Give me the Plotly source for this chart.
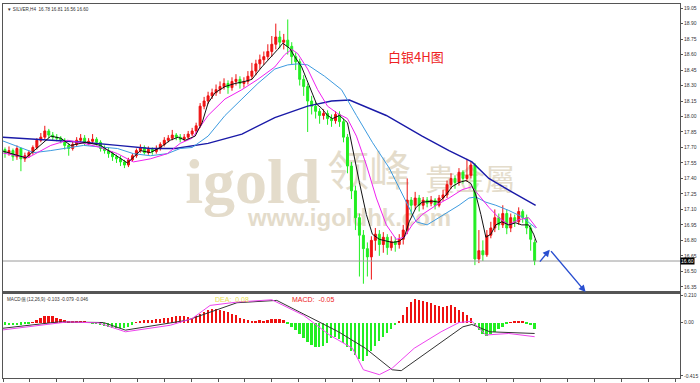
import plotly.graph_objects as go

# ---------------- data ----------------
opens = [17.68, 17.65, 17.67, 17.61, 17.69, 17.59, 17.62, 17.65, 17.70, 17.77,
         17.80, 17.86, 17.82, 17.80, 17.79, 17.77, 17.72, 17.69, 17.73, 17.77,
         17.79, 17.74, 17.76, 17.78, 17.75, 17.69, 17.67, 17.64, 17.61, 17.59,
         17.56, 17.53, 17.58, 17.62, 17.67, 17.70, 17.65, 17.68, 17.66, 17.69,
         17.73, 17.77, 17.79, 17.82, 17.80, 17.78, 17.80, 17.83, 17.86, 17.91,
         18.10, 18.15, 18.20, 18.23, 18.26, 18.29, 18.32, 18.28, 18.34, 18.36,
         18.32, 18.34, 18.39, 18.44, 18.51, 18.55, 18.58, 18.63, 18.70, 18.77,
         18.72, 18.74, 18.68, 18.58, 18.53, 18.36, 18.29, 18.15, 18.10, 18.05,
         18.01, 18.03, 17.98, 17.96, 18.02, 17.95, 17.80, 17.52, 17.28, 17.02,
         16.85, 16.72, 16.64, 16.80, 16.86, 16.76, 16.83, 16.73, 16.79, 16.76,
         16.81, 16.90, 17.19, 17.14, 17.21, 17.14, 17.19, 17.16, 17.19, 17.14,
         17.21, 17.24, 17.34, 17.40, 17.36, 17.46, 17.40, 17.43, 17.53, 16.62,
         16.70, 16.66, 16.85, 16.92, 17.02, 16.95, 17.06, 16.92, 17.02, 16.98,
         17.08, 17.02, 16.92, 16.78]
closes = [17.65, 17.67, 17.61, 17.69, 17.59, 17.62, 17.65, 17.70, 17.77, 17.80,
          17.86, 17.82, 17.80, 17.79, 17.77, 17.72, 17.69, 17.73, 17.77, 17.79,
          17.74, 17.76, 17.78, 17.75, 17.69, 17.67, 17.64, 17.61, 17.59, 17.56,
          17.53, 17.58, 17.62, 17.67, 17.70, 17.65, 17.68, 17.66, 17.69, 17.73,
          17.77, 17.79, 17.82, 17.80, 17.78, 17.80, 17.83, 17.86, 17.91, 18.10,
          18.15, 18.20, 18.23, 18.26, 18.29, 18.32, 18.28, 18.34, 18.36, 18.32,
          18.34, 18.39, 18.44, 18.51, 18.55, 18.58, 18.63, 18.70, 18.77, 18.72,
          18.74, 18.68, 18.58, 18.53, 18.36, 18.29, 18.15, 18.10, 18.05, 18.01,
          18.03, 17.98, 17.96, 18.02, 17.95, 17.80, 17.52, 17.28, 17.02, 16.85,
          16.72, 16.64, 16.80, 16.86, 16.76, 16.83, 16.73, 16.79, 16.76, 16.81,
          16.90, 17.19, 17.14, 17.21, 17.14, 17.19, 17.16, 17.19, 17.14, 17.21,
          17.24, 17.34, 17.40, 17.36, 17.46, 17.40, 17.43, 17.53, 16.62, 16.70,
          16.66, 16.85, 16.92, 17.02, 16.95, 17.06, 16.92, 17.02, 16.98, 17.08,
          17.02, 16.92, 16.81, 16.60]
highs = [17.70, 17.71, 17.69, 17.72, 17.70, 17.65, 17.67, 17.72, 17.79, 17.84,
         17.91, 17.88, 17.85, 17.83, 17.81, 17.79, 17.74, 17.76, 17.80, 17.83,
         17.82, 17.79, 17.83, 17.80, 17.77, 17.72, 17.70, 17.66, 17.63, 17.62,
         17.58, 17.60, 17.64, 17.69, 17.73, 17.72, 17.71, 17.70, 17.72, 17.75,
         17.80, 17.82, 17.87, 17.84, 17.83, 17.83, 17.86, 17.89, 17.94, 18.13,
         18.19, 18.24, 18.27, 18.31, 18.34, 18.37, 18.35, 18.38, 18.41, 18.39,
         18.38, 18.44, 18.52, 18.55, 18.60, 18.63, 18.70, 18.78, 18.90, 18.83,
         18.80, 18.94, 18.72, 18.62, 18.56, 18.40, 18.32, 18.20, 18.14, 18.08,
         18.07, 18.06, 18.02, 18.05, 18.05, 17.98, 17.83, 17.56, 17.33, 17.06,
         16.90, 16.78, 16.84, 16.92, 16.90, 16.88, 16.86, 16.84, 16.83, 16.86,
         16.95, 17.40, 17.22, 17.27, 17.24, 17.22, 17.22, 17.23, 17.21, 17.24,
         17.29, 17.38, 17.45, 17.43, 17.50, 17.48, 17.59, 17.56, 17.55, 16.90,
         16.80, 16.90, 16.98, 17.10, 17.06, 17.14, 17.10, 17.06, 17.05, 17.12,
         17.10, 17.05, 16.95, 16.81]
lows = [17.60, 17.62, 17.57, 17.58, 17.47, 17.56, 17.60, 17.63, 17.68, 17.75,
        17.78, 17.79, 17.77, 17.76, 17.74, 17.68, 17.62, 17.67, 17.71, 17.75,
        17.72, 17.72, 17.74, 17.72, 17.66, 17.64, 17.60, 17.57, 17.55, 17.52,
        17.50, 17.51, 17.56, 17.60, 17.65, 17.63, 17.63, 17.63, 17.64, 17.67,
        17.71, 17.75, 17.77, 17.77, 17.75, 17.76, 17.78, 17.81, 17.84, 17.89,
        18.07, 18.12, 18.17, 18.20, 18.22, 18.26, 18.22, 18.25, 18.30, 18.27,
        18.28, 18.31, 18.36, 18.40, 18.46, 18.50, 18.55, 18.58, 18.65, 18.66,
        18.65, 18.60, 18.50, 18.45, 18.30, 18.20, 17.85, 18.02, 17.98, 17.93,
        17.97, 17.92, 17.90, 17.93, 17.90, 17.75, 17.45, 17.20, 16.90, 16.45,
        16.38, 16.45, 16.42, 16.70, 16.65, 16.68, 16.66, 16.70, 16.69, 16.72,
        16.76, 16.86, 17.05, 17.10, 17.08, 17.10, 17.12, 17.13, 17.10, 17.12,
        17.18, 17.21, 17.30, 17.30, 17.33, 17.35, 17.37, 17.40, 16.56, 16.58,
        16.60, 16.64, 16.82, 16.88, 16.90, 16.92, 16.86, 16.88, 16.93, 16.95,
        16.97, 16.86, 16.70, 16.56]
bar_index = list(range(len(closes)))

# moving-average lines (black, magenta, light blue, dark blue)
ma_fast_x = [-1, 5.25, 11.5, 14, 16.5, 20.25, 24, 30.75, 34, 36.5, 39, 41.5, 43.5, 45.25, 47.75, 49.5, 51,
             52.75, 55.25, 57.75, 60.25, 62, 64.5, 67, 68.5, 69.75, 71.5, 72.75, 74.5, 75.75, 77, 78.25,
             79.5, 81, 82.25, 84, 86, 87.25, 89, 90.75, 92.25, 94, 97.25, 99, 100.25, 101.5, 103.25,
             104.75, 107.25, 109, 110.75, 112.25, 114, 115.75, 117, 118.25, 119.5, 120.75, 122, 123.25,
             124.75, 126.5, 128.25, 129.75, 131.5, 132.75, 133.5]
ma_fast_y = [17.67, 17.60, 17.81, 17.79, 17.72, 17.75, 17.72, 17.55, 17.67, 17.65, 17.70, 17.77, 17.80,
             17.77, 17.81, 17.94, 18.13, 18.23, 18.29, 18.32, 18.34, 18.36, 18.48, 18.58, 18.65, 18.71,
             18.66, 18.58, 18.48, 18.36, 18.23, 18.12, 18.08, 18.01, 17.98, 18.01, 17.94, 17.69, 17.36,
             17.05, 16.86, 16.81, 16.78, 16.79, 16.83, 16.98, 17.12, 17.17, 17.18, 17.17, 17.24, 17.32,
             17.36, 17.38, 17.35, 17.24, 17.05, 16.83, 16.86, 16.95, 16.98, 16.95, 16.97, 16.95, 16.95,
             16.86, 16.78]
ma_mid_x = [-1, 5.75, 11.5, 15.75, 19.75, 24, 28.25, 32.25, 36.5, 40.75, 44, 47, 51, 55.25, 59.5, 63.5,
            67.75, 70.25, 72, 73.5, 76, 78.5, 81, 83.5, 86, 88.25, 90.75, 93.25, 95.75, 98.25, 100.25,
            102.25, 104.75, 108.25, 111.5, 114.75, 117.25, 119, 121.5, 124, 126.5, 129, 131.5, 133.5]
ma_mid_y = [17.65, 17.60, 17.72, 17.77, 17.74, 17.70, 17.64, 17.56, 17.59, 17.64, 17.74, 17.79, 18.01,
            18.17, 18.26, 18.36, 18.48, 18.60, 18.65, 18.61, 18.46, 18.26, 18.10, 18.03, 17.98, 17.81,
            17.53, 17.21, 16.95, 16.81, 16.83, 16.95, 17.05, 17.14, 17.21, 17.29, 17.32, 17.24, 17.12,
            17.02, 16.95, 17.00, 17.02, 16.92]
ma_slow_x = [-1, 7.25, 11.5, 19.75, 28.25, 32.25, 36.5, 40.75, 44, 47, 51, 55.25, 59.5, 63.5, 67.75, 71,
             73.5, 76, 80.25, 84.5, 88.25, 92.25, 96.5, 100.75, 103.25, 106, 109, 111.5, 114, 116.5,
             118.25, 120.75, 123.25, 126.5, 129.75, 133.25]
ma_slow_y = [17.77, 17.65, 17.67, 17.72, 17.69, 17.64, 17.62, 17.64, 17.69, 17.70, 17.81, 18.01, 18.17,
             18.32, 18.46, 18.50, 18.51, 18.50, 18.39, 18.26, 18.01, 17.75, 17.50, 17.17, 16.98, 16.95,
             17.02, 17.08, 17.14, 17.21, 17.22, 17.17, 17.14, 17.09, 17.03, 16.92]
ma_long_x = [-1, 11.5, 19.75, 28.25, 36.5, 42.75, 51, 59.5, 67.75, 76, 82, 86.5, 95.75, 104.75, 111.5,
             117.25, 121.5, 127.25, 133.25]
ma_long_y = [17.80, 17.77, 17.75, 17.72, 17.69, 17.69, 17.74, 17.83, 17.99, 18.10, 18.15, 18.16, 18.01,
             17.81, 17.67, 17.56, 17.40, 17.27, 17.14]

# MACD panel
macd_hist = [-0.015, -0.018, -0.02, -0.02, -0.015, -0.01, -0.005, 0.005, 0.02, 0.035,
             0.05, 0.055, 0.05, 0.04, 0.03, 0.02, 0.015, 0.01, 0.01, 0.012,
             0.01, 0.005, -0.003, -0.008, -0.015, -0.025, -0.035, -0.042, -0.045, -0.045,
             -0.04, -0.03, -0.015, 0.005, 0.012, 0.018, 0.02, 0.022, 0.025, 0.03,
             0.035, 0.04, 0.045, 0.05, 0.055, 0.05, 0.045, 0.04, 0.05, 0.07,
             0.085, 0.10, 0.11, 0.105, 0.10, 0.09, 0.08, 0.07, 0.06, 0.04,
             0.03, 0.02, 0.015, 0.015, 0.02, 0.015, 0.02, 0.025, 0.03, 0.025,
             0.02, -0.01, -0.03, -0.06, -0.09, -0.12, -0.15, -0.17, -0.185, -0.185,
             -0.18, -0.16, -0.12, -0.11, -0.13, -0.16, -0.19, -0.22, -0.25, -0.28,
             -0.30, -0.26, -0.22, -0.18, -0.14, -0.11, -0.08, -0.05, -0.02, 0.01,
             0.06, 0.12, 0.16, 0.185, 0.18, 0.17, 0.16, 0.15, 0.14, 0.13,
             0.12, 0.13, 0.135, 0.12, 0.10, 0.08, 0.06, 0.04, -0.02, -0.06,
             -0.09, -0.10, -0.09, -0.07, -0.05, -0.03, -0.01, 0.005, 0.01, 0.015,
             0.01, -0.005, -0.02, -0.05]
macd_black_x = [-1, 13.5, 24.75, 30.25, 45.75, 58.25, 68.25, 77, 83.75, 90.5, 97.25, 99.5, 106.25, 110.5,
                115, 117.25, 121.75, 133]
macd_black_y = [-0.046, 0.005, 0.0, -0.059, 0.018, 0.154, 0.172, 0.031, -0.072, -0.20, -0.367, -0.374,
                -0.226, -0.136, -0.033, -0.015, -0.072, -0.085]
macd_pink_x = [-1, 15.75, 23.5, 30.25, 41.5, 47, 51.5, 58.25, 67, 75, 81.5, 87.25, 90, 94, 97.25, 102.75,
               109.5, 114, 117.25, 120.75, 126.5, 133]
macd_pink_y = [-0.059, 0.005, -0.003, -0.072, -0.021, 0.031, 0.133, 0.159, 0.177, 0.056, -0.097, -0.20,
               -0.367, -0.405, -0.354, -0.20, -0.072, 0.0, 0.010, -0.097, -0.085, -0.11]

price_ticks = [16.35, 16.50, 16.65, 16.80, 16.95, 17.10, 17.25, 17.40, 17.55, 17.70, 17.85, 18.00,
               18.15, 18.30, 18.45, 18.60, 18.75, 18.90, 19.05]
macd_ticks = [0.21, 0.0, -0.415]
macd_tick_text = ["0.210", "0.00", "-0.415"]
last_price = 16.60
arrow_x = [134, 136.8, 145.8]
arrow_y = [16.58, 16.71, 16.30]

RED = "#ee1111"
GREEN = "#22ee22"
SMALL = "Liberation Sans"

fig = go.Figure()

fig.add_trace(go.Candlestick(
    x=bar_index, open=opens, high=highs, low=lows, close=closes,
    increasing=dict(line=dict(color=RED, width=1), fillcolor=RED),
    decreasing=dict(line=dict(color=GREEN, width=1), fillcolor=GREEN),
    whiskerwidth=0, showlegend=False, hoverinfo="skip", xaxis="x", yaxis="y"))

for xs, ys, col, w in [(ma_long_x, ma_long_y, "#1a1aa8", 1.4),
                       (ma_slow_x, ma_slow_y, "#3d9be0", 1.0),
                       (ma_mid_x, ma_mid_y, "#f020f0", 1.0),
                       (ma_fast_x, ma_fast_y, "#111111", 1.0)]:
    fig.add_trace(go.Scatter(x=xs, y=ys, mode="lines", line=dict(color=col, width=w),
                             showlegend=False, hoverinfo="skip", xaxis="x", yaxis="y"))

fig.add_trace(go.Bar(x=bar_index, y=macd_hist, width=0.45,
                     marker=dict(color=[RED if v >= 0 else GREEN for v in macd_hist],
                                 line=dict(width=0)),
                     showlegend=False, hoverinfo="skip", xaxis="x2", yaxis="y2"))
fig.add_trace(go.Scatter(x=macd_black_x, y=macd_black_y, mode="lines", line=dict(color="#333333", width=1),
                         showlegend=False, hoverinfo="skip", xaxis="x2", yaxis="y2"))
fig.add_trace(go.Scatter(x=macd_pink_x, y=macd_pink_y, mode="lines", line=dict(color="#ee44ee", width=1),
                         showlegend=False, hoverinfo="skip", xaxis="x2", yaxis="y2"))

axis_line = dict(showline=True, mirror=True, linecolor="#555555", linewidth=1, showgrid=False, zeroline=False)

fig.update_layout(
    width=700, height=383,
    margin=dict(l=2, r=18, t=2, b=3),
    paper_bgcolor="white", plot_bgcolor="white",
    hovermode=False,
    xaxis=dict(domain=[0, 1], range=[-0.5, 169.5], anchor="y", showticklabels=False, ticks="",
               rangeslider=dict(visible=False), **axis_line),
    yaxis=dict(domain=[0.230, 1], range=[16.30, 19.09], side="right", tickvals=price_ticks,
               tickformat=".2f", ticks="outside", ticklen=2, tickcolor="#555555",
               tickfont=dict(family=SMALL, size=5, color="#333333"), **axis_line),
    xaxis2=dict(domain=[0, 1], range=[-0.5, 169.5], anchor="y2", showticklabels=False,
                ticks="outside", ticklen=3, tickcolor="#555555", tick0=-0.5, dtick=6.75, **axis_line),
    yaxis2=dict(domain=[0, 0.225], range=[-0.431, 0.223], side="right", tickvals=macd_ticks,
                ticktext=macd_tick_text, ticks="outside", ticklen=2, tickcolor="#555555",
                tickfont=dict(family=SMALL, size=5, color="#333333"), **axis_line),
    bargap=0,
)

# separator line between panels (thicker)
fig.add_shape(type="line", xref="paper", yref="paper", x0=0, x1=1, y0=0.230, y1=0.230,
              line=dict(color="#555555", width=2))
# last price line
fig.add_shape(type="line", xref="paper", yref="y", x0=0, x1=1, y0=last_price, y1=last_price,
              line=dict(color="#9a9a9a", width=1))

# watermark (drawn below the data)
WM = "#e4dccb"
for txt, cx, cy, fam, size, weight in [
        ("igold", 0.369, 0.545, "Liberation Serif", 64, "bold"),
        ("领峰", 0.541, 0.545, "Noto Sans CJK SC", 42, "normal"),
        ("貴金屬", 0.690, 0.523, "Noto Sans CJK TC", 30, "normal"),
        ("www.igoldhk.com", 0.512, 0.434, "Liberation Sans", 24, "bold")]:
    fig.add_shape(type="rect", xref="paper", yref="paper", x0=cx - 0.2, x1=cx + 0.2, y0=cy - 0.05,
                  y1=cy + 0.05, line=dict(width=0), fillcolor="rgba(0,0,0,0)", layer="below",
                  label=dict(text=txt, textposition="middle center",
                             font=dict(family=fam, size=size, color=WM, weight=weight)))

annotations = [
    dict(text="▼ SILVER,H4  16.78 16.81 16.56 16.60", xref="paper", yref="paper", x=0.003, y=0.998,
         xanchor="left", yanchor="top", showarrow=False, font=dict(family=SMALL, size=4.6, color="#333333")),
    dict(text="白银4H图", xref="paper", yref="paper", x=0.566, y=0.860, xanchor="left", yanchor="middle",
         showarrow=False, font=dict(family="Noto Sans CJK SC", size=13, color="#ee2222")),
    dict(text="MACD值 (12,26,9) -0.103 -0.079 -0.046", xref="paper", yref="paper", x=0.003, y=0.222,
         xanchor="left", yanchor="top", showarrow=False, font=dict(family=SMALL, size=4.6, color="#333333")),
    dict(text="DEA:  0.08", xref="paper", yref="paper", x=0.310, y=0.224, xanchor="left", yanchor="top",
         showarrow=False, font=dict(family=SMALL, size=7, color="#e8e050")),
    dict(text="MACD:  -0.05", xref="paper", yref="paper", x=0.424, y=0.224, xanchor="left", yanchor="top",
         showarrow=False, font=dict(family=SMALL, size=7, color="#ee2222")),
    dict(text=f"{last_price:.2f}", xref="paper", yref="y", x=1.0, y=last_price, xanchor="left",
         yanchor="middle", showarrow=False, bgcolor="#000000", borderpad=0,
         font=dict(family=SMALL, size=5, color="#ffffff")),
]
for k in range(2):
    annotations.append(dict(x=arrow_x[k + 1], y=arrow_y[k + 1], ax=arrow_x[k], ay=arrow_y[k],
                            xref="x", yref="y", axref="x", ayref="y", text="", showarrow=True,
                            arrowhead=2, arrowsize=1, arrowwidth=1.4, arrowcolor="#2a4fd0"))
fig.update_layout(annotations=annotations)

fig.write_html("out.html", config={"displayModeBar": False},
               post_script="document.body.style.margin='0';document.body.style.padding='0';"
                           "document.body.style.overflow='hidden';")
